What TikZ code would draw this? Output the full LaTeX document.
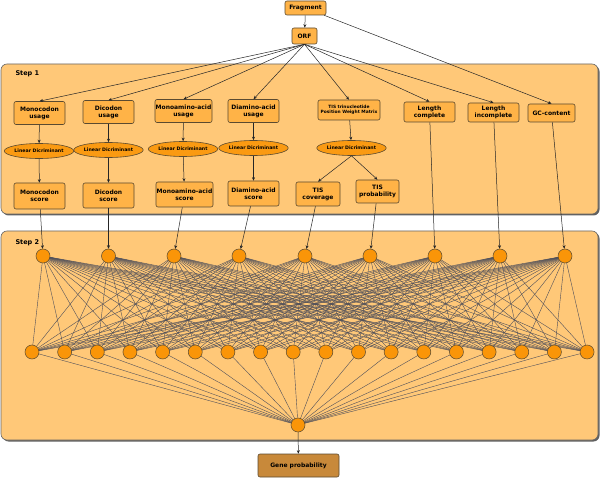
\documentclass[tikz,border=0pt]{standalone}
\usepackage{fontspec}
\setmainfont{DejaVu Sans}
\usetikzlibrary{shapes.geometric,arrows.meta}
\definecolor{panelfill}{HTML}{FFC878}
\definecolor{boxfill}{HTML}{FFB347}
\definecolor{ellfill}{HTML}{FA9A12}
\definecolor{neufill}{HTML}{FA9508}
\definecolor{genefill}{HTML}{C8893A}
\definecolor{edgecol}{HTML}{50505A}
\definecolor{bordcol}{HTML}{5A4A30}
\tikzset{
  panel/.style={draw=gray!80!black, line width=0.6pt, fill=panelfill, rounded corners=6pt},
  shadowbox/.style={fill=gray!75!black, rounded corners=6pt},
  bx/.style={draw=bordcol, line width=0.6pt, fill=boxfill, rounded corners=2pt, align=center,
     font=\fontsize{6}{7}\selectfont\bfseries, inner sep=0pt},
  ell/.style={ellipse, draw=bordcol, line width=0.6pt, fill=ellfill, inner sep=0pt,
     minimum width=52pt, minimum height=15pt, font=\fontsize{4.7}{5}\selectfont\bfseries},
  neu/.style={circle, draw=bordcol, line width=0.5pt, fill=neufill, minimum size=14pt, inner sep=0pt},
  arr/.style={draw=black!85, line width=0.5pt, -{Stealth[length=3.5pt,width=3pt]}},
  nnedge/.style={draw=edgecol, line width=0.4pt},
  steplbl/.style={font=\fontsize{6.5}{7}\selectfont\bfseries, anchor=west}
}
\begin{document}
\begin{tikzpicture}[x=1pt,y=-1pt]
\useasboundingbox (0,0) rectangle (600,478);
% panels
\path[shadowbox] (2.5,65.5) rectangle (599.5,215.5);
\path[panel] (1,64) rectangle (598,214);
\path[shadowbox] (2.5,232.5) rectangle (599.5,441.5);
\path[panel] (1,231) rectangle (598,440);
\node[steplbl] (s1) at (12,74) {Step 1};
\node[steplbl] (s2) at (12,243) {Step 2};

% top
\node[bx, minimum width=41pt, minimum height=14pt] (frag) at (305.5,8) {Fragment};
\node[bx, minimum width=25pt, minimum height=16pt] (orf) at (304.5,36) {ORF};

% first row
\node[bx, minimum width=51pt, minimum height=23pt] (mcu) at (39.5,113) {Monocodon\\usage};
\node[bx, minimum width=51pt, minimum height=23pt] (dcu) at (108.5,112) {Dicodon\\usage};
\node[bx, minimum width=57pt, minimum height=23pt] (mau) at (183.5,111) {Monoamino-acid\\usage};
\node[bx, minimum width=51pt, minimum height=23pt] (dau) at (253.5,111) {Diamino-acid\\usage};
\node[bx, minimum width=62pt, minimum height=20pt, font=\fontsize{4.4}{5.5}\selectfont\bfseries] (tis) at (349,110) {TIS trinucleotide\\Position Weight Matrix};
\node[bx, minimum width=51pt, minimum height=20pt] (lc) at (429.5,112) {Length\\complete};
\node[bx, minimum width=51pt, minimum height=19pt] (li) at (493.5,112.5) {Length\\incomplete};
\node[bx, minimum width=47pt, minimum height=18pt] (gc) at (551.5,113) {GC-content};

% ellipses
\node[ell] (e1) at (39,151) {Linear Dicriminant};
\node[ell] (e2) at (108.5,150) {Linear Dicriminant};
\node[ell] (e3) at (183,149) {Linear Dicriminant};
\node[ell] (e4) at (253.5,148) {Linear Dicriminant};
\node[ell] (e5) at (351.5,148) {Linear Dicriminant};

% scores
\node[bx, minimum width=51pt, minimum height=26pt] (mcs) at (39.5,196) {Monocodon\\score};
\node[bx, minimum width=51pt, minimum height=25pt] (dcs) at (108.5,195.5) {Dicodon\\score};
\node[bx, minimum width=57pt, minimum height=25pt] (mas) at (184.5,194.5) {Monoamino-acid\\score};
\node[bx, minimum width=51pt, minimum height=25pt] (das) at (253.5,193.5) {Diamino-acid\\score};
\node[bx, minimum width=44pt, minimum height=24pt] (tc) at (318,194) {TIS\\coverage};
\node[bx, minimum width=43pt, minimum height=23pt] (tp) at (377.5,191.5) {TIS\\probability};

% arrows top
\draw[arr] (frag) -- (orf);
\draw[arr] (frag) -- (gc.north);
\foreach \t in {mcu,dcu,mau,dau,tis,lc,li}{
  \draw[arr] (orf.south) -- (\t.north);
}
\draw[arr] (mcu) -- (e1); \draw[arr] (e1) -- (mcs);
\draw[arr] (dcu) -- (e2); \draw[arr] (e2) -- (dcs);
\draw[arr] (mau) -- (e3); \draw[arr] (e3) -- (mas);
\draw[arr] (dau) -- (e4); \draw[arr] (e4) -- (das);
\draw[arr] (tis) -- (e5);
\draw[arr] (e5.south) -- (tc.north);
\draw[arr] (e5.south) -- (tp.north);

% input neurons
\foreach \i/\x in {1/43,2/108.5,3/174,4/239,5/305,6/370,7/435,8/500,9/565}{
  \coordinate (ic\i) at (\x,256);
}
% hidden neurons
\foreach \j in {1,...,18}{
  \pgfmathsetmacro{\hx}{32+(\j-1)*32.65}
  \coordinate (hc\j) at (\hx,352);
}
% edges input-hidden
\foreach \i in {1,...,9}{
  \foreach \j in {1,...,18}{
    \draw[nnedge] (ic\i) -- (hc\j);
  }
}
\coordinate (oc) at (298,425);
\foreach \j in {1,...,18}{
  \draw[nnedge] (hc\j) -- (oc);
}
\foreach \i in {1,...,9}{
  \node[neu] (in\i) at (ic\i) {};
}
\foreach \j in {1,...,18}{
  \node[neu] (h\j) at (hc\j) {};
}
\node[neu] (out) at (oc) {};

% arrows to input neurons
\draw[arr] (mcs) -- (in1);
\draw[arr] (dcs) -- (in2);
\draw[arr] (mas) -- (in3);
\draw[arr] (das) -- (in4);
\draw[arr] (tc) -- (in5);
\draw[arr] (tp) -- (in6);
\draw[arr] (lc) -- (in7);
\draw[arr] (li) -- (in8);
\draw[arr] (gc) -- (in9);

\node[bx, fill=genefill, minimum width=81pt, minimum height=23pt] (gene) at (298.5,465.5) {Gene probability};
\draw[arr] (out) -- (gene);
\end{tikzpicture}
\end{document}
